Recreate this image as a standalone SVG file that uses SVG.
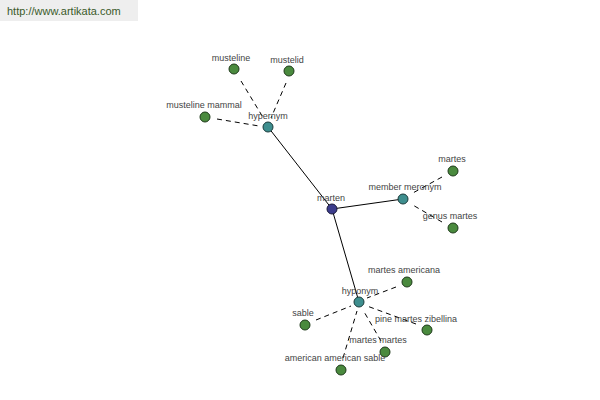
<svg xmlns="http://www.w3.org/2000/svg" width="600" height="400" viewBox="0 0 600 400">
<style>
text{font-family:"Liberation Sans",Arial,sans-serif;font-size:9px;fill:#444;text-anchor:middle}
.d{stroke:#000;stroke-width:1;stroke-dasharray:5,4;fill:none}
.s{stroke:#000;stroke-width:1;fill:none}
.leaf{fill:#4a8a3e;stroke:#1e3a1a;stroke-width:1}
.hub{fill:#3e8e8e;stroke:#1a3a3a;stroke-width:1}
.root{fill:#3c3c8c;stroke:#1a1a3a;stroke-width:1}
</style>
<rect x="0" y="0" width="600" height="400" fill="#fff"/>
<rect x="0" y="0" width="138" height="21" fill="#eeeeee"/>
<text x="7" y="15" style="text-anchor:start;font-size:11px;fill:#3a5a2a">http://www.artikata.com</text>
<g id="connectors">
<line class="s" x1="332" y1="209" x2="268" y2="127"/>
<line class="s" x1="332" y1="209" x2="403" y2="199"/>
<line class="s" x1="332" y1="209" x2="359" y2="302"/>
<line class="d" x1="241" y1="81" x2="264" y2="119"/>
<line class="d" x1="286" y1="83" x2="271" y2="118"/>
<line class="d" x1="217" y1="119" x2="259" y2="126"/>
<line class="d" x1="442" y1="177" x2="411" y2="194"/>
<line class="d" x1="442" y1="222" x2="411" y2="204"/>
<line class="d" x1="396" y1="287" x2="367" y2="298"/>
<line class="d" x1="316" y1="320" x2="351" y2="306"/>
<line class="d" x1="416" y1="324" x2="367" y2="306"/>
<line class="d" x1="381" y1="341" x2="363" y2="310"/>
<line class="d" x1="343" y1="358" x2="357" y2="311"/>
</g>
<g id="n-hypernym"><circle class="hub" cx="268" cy="127" r="5"/><text x="268" y="119">hypernym</text></g>
<g id="n-musteline"><circle class="leaf" cx="234" cy="69" r="5"/><text x="231" y="61">musteline</text></g>
<g id="n-mustelid"><circle class="leaf" cx="289" cy="71" r="5"/><text x="287" y="63">mustelid</text></g>
<g id="n-musteline-mammal"><circle class="leaf" cx="205" cy="117" r="5"/><text x="204" y="108">musteline mammal</text></g>
<g id="n-marten"><circle class="root" cx="332" cy="209" r="5"/><text x="331" y="201">marten</text></g>
<g id="n-member-meronym"><circle class="hub" cx="403" cy="199" r="5"/><text x="405" y="190">member meronym</text></g>
<g id="n-martes"><circle class="leaf" cx="453" cy="171" r="5"/><text x="452" y="162">martes</text></g>
<g id="n-genus-martes"><circle class="leaf" cx="453" cy="228" r="5"/><text x="450" y="219">genus martes</text></g>
<g id="n-hyponym"><circle class="hub" cx="359" cy="302" r="5"/><text x="360" y="294">hyponym</text></g>
<g id="n-martes-americana"><circle class="leaf" cx="407" cy="282" r="5"/><text x="404" y="273">martes americana</text></g>
<g id="n-sable"><circle class="leaf" cx="305" cy="325" r="5"/><text x="303" y="316">sable</text></g>
<g id="n-pine-martes-zibellina"><circle class="leaf" cx="427" cy="330" r="5"/><text x="416" y="322">pine martes zibellina</text></g>
<g id="n-martes-martes"><circle class="leaf" cx="385" cy="352" r="5"/><text x="378" y="343">martes martes</text></g>
<g id="n-american-american-sable"><circle class="leaf" cx="341" cy="370" r="5"/><text x="335" y="361">american american sable</text></g>
</svg>
